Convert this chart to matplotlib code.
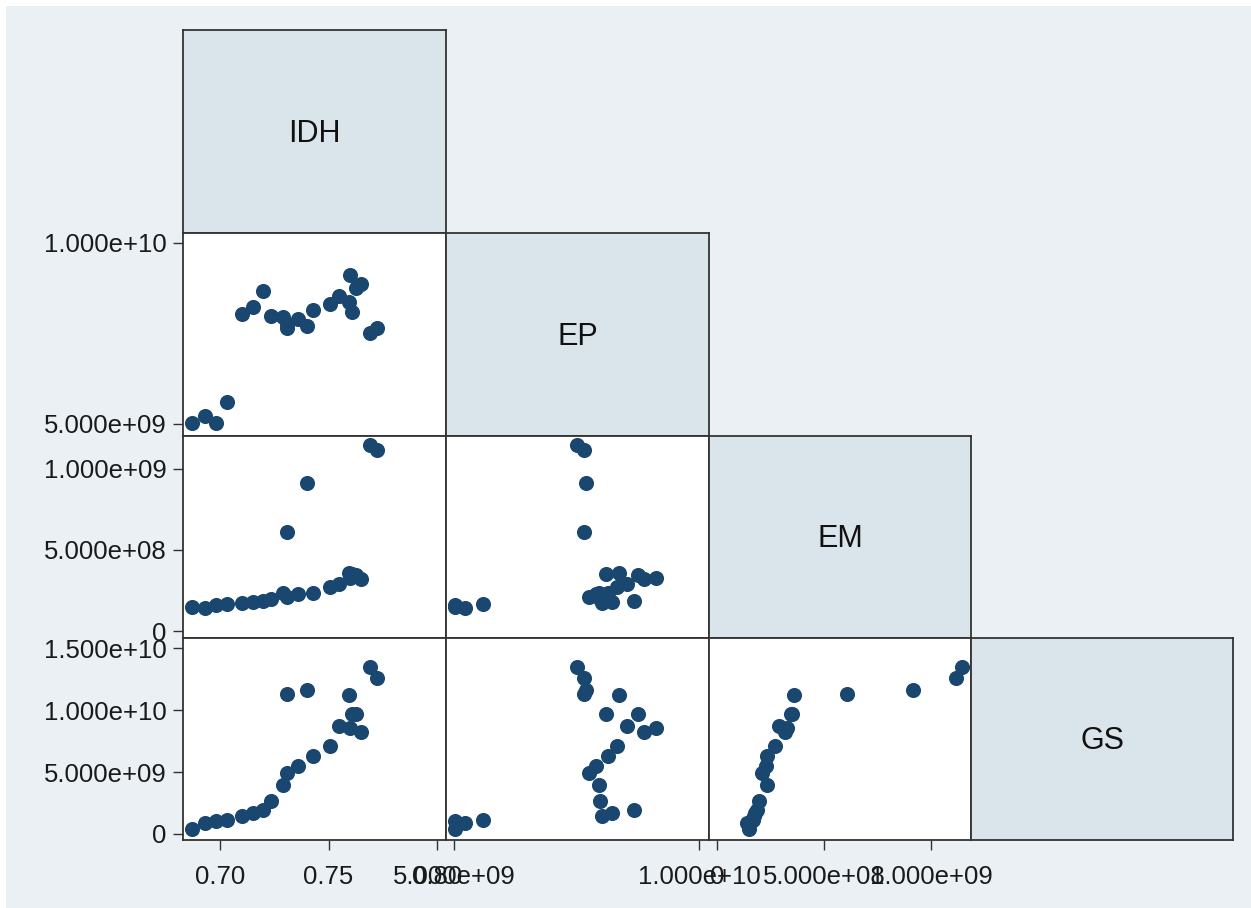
#!/usr/bin/env python3
"""
Scatter matrix (lower half) of IDH, EP, EM and GS
"""

import matplotlib
matplotlib.use('Agg')
import matplotlib.pyplot as plt
from matplotlib.patches import Rectangle
from matplotlib.ticker import FuncFormatter, FixedLocator

plt.rcParams['font.family'] = ['Liberation Sans', 'DejaVu Sans']

idh = [0.6872, 0.6931, 0.6982, 0.7032, 0.7101, 0.7151, 0.7197, 0.7234,
       0.7289, 0.7307, 0.7358, 0.7427, 0.7505, 0.7546, 0.7596, 0.7600,
       0.7624, 0.7651, 0.7610, 0.7307, 0.7399, 0.7693, 0.7725]
ep = [5.03e9, 5.22e9, 5.02e9, 5.60e9, 8.03e9, 8.22e9, 8.68e9, 7.97e9,
      7.95e9, 7.75e9, 7.90e9, 8.15e9, 8.32e9, 8.54e9, 8.37e9, 9.12e9,
      8.75e9, 8.87e9, 8.10e9, 7.66e9, 7.70e9, 7.52e9, 7.66e9]
em = [1.48e8, 1.42e8, 1.60e8, 1.67e8, 1.73e8, 1.79e8, 1.87e8, 1.98e8,
      2.35e8, 2.10e8, 2.28e8, 2.35e8, 2.72e8, 2.90e8, 3.58e8, 3.25e8,
      3.45e8, 3.20e8, 3.50e8, 6.08e8, 9.14e8, 1.145e9, 1.117e9]
gs = [0.40e9, 0.89e9, 1.05e9, 1.12e9, 1.45e9, 1.72e9, 1.94e9, 2.70e9,
      3.95e9, 4.92e9, 5.48e9, 6.33e9, 7.10e9, 8.68e9, 11.21e9, 8.52e9,
      9.68e9, 8.23e9, 9.70e9, 11.29e9, 11.61e9, 13.47e9, 12.58e9]

var_names = ['IDH', 'EP', 'EM', 'GS']

idh_ticks = [0.70, 0.75, 0.80]
ep_ticks = [5e9, 1e10]
em_ticks = [0, 5e8, 1e9]
gs_ticks = [0, 5e9, 1e10, 1.5e10]

# Colors (Stata s2color look)
bg = '#EAF0F3'
diag_fill = '#D9E5EB'
navy = '#1A476F'
frame = '#333333'


def sci_fmt(v, pos):
    if abs(v) < 1:
        return '0'
    return f'{v:.3e}'


def idh_fmt(v, pos):
    return f'{v:.2f}'


def figure_matrix():
    W, H = 1251, 908
    fig = plt.figure(figsize=(W / 100, H / 100), dpi=100, facecolor='white')
    fig.patches.append(Rectangle((6 / W, 0), 1, 1 - 6 / H, transform=fig.transFigure,
                                 facecolor=bg, edgecolor='none', zorder=-10))

    data = [idh, ep, em, gs]
    ticks = [idh_ticks, ep_ticks, em_ticks, gs_ticks]
    fmts = [idh_fmt, sci_fmt, sci_fmt, sci_fmt]
    # axis ranges as a column (x) and as a row (y)
    xlims = [(0.6829, 0.8041), (4.837e9, 1.0204e10), (-3.74e7, 1.187e9), (-4.84e8, 1.581e10)]
    ylims = [(0.6829, 0.8041), (4.668e9, 1.0276e10), (-4.3e7, 1.2025e9), (-4.84e8, 1.581e10)]

    col_edges = [183, 446, 709, 971, 1233]
    row_edges = [30, 233, 436, 638, 840]

    for i in range(4):
        for j in range(i + 1):
            x0, x1 = col_edges[j], col_edges[j + 1]
            y0, y1 = row_edges[i], row_edges[i + 1]
            ax = fig.add_axes([x0 / W, 1 - y1 / H, (x1 - x0) / W, (y1 - y0) / H])
            for sp in ax.spines.values():
                sp.set_color(frame)
                sp.set_linewidth(1.3)

            if i == j:
                # diagonal: variable name box
                ax.set_facecolor(diag_fill)
                ax.set_xticks([])
                ax.set_yticks([])
                ax.text(0.5, 0.49, var_names[i], transform=ax.transAxes,
                        ha='center', va='center', fontsize=22, color='#111111')
                continue

            ax.set_facecolor('white')
            ax.scatter(data[j], data[i], s=118, color=navy, linewidths=0, zorder=3)
            ax.set_xlim(*xlims[j])
            ax.set_ylim(*ylims[i])

            ax.tick_params(direction='out', length=7, width=1, color=frame,
                           labelsize=18.5, labelcolor='#1a1a1a', pad=5)
            if j == 0:
                ax.yaxis.set_major_locator(FixedLocator(ticks[i]))
                ax.yaxis.set_major_formatter(FuncFormatter(fmts[i]))
            else:
                ax.set_yticks([])
            if i == 3:
                ax.xaxis.set_major_locator(FixedLocator(ticks[j]))
                ax.xaxis.set_major_formatter(FuncFormatter(fmts[j]))
                ax.tick_params(axis='x', pad=11)
            else:
                ax.set_xticks([])

    plt.savefig('out.png', dpi=100, facecolor=fig.get_facecolor())
    print("[✓] saved out.png")
    plt.close()


if __name__ == "__main__":
    figure_matrix()
